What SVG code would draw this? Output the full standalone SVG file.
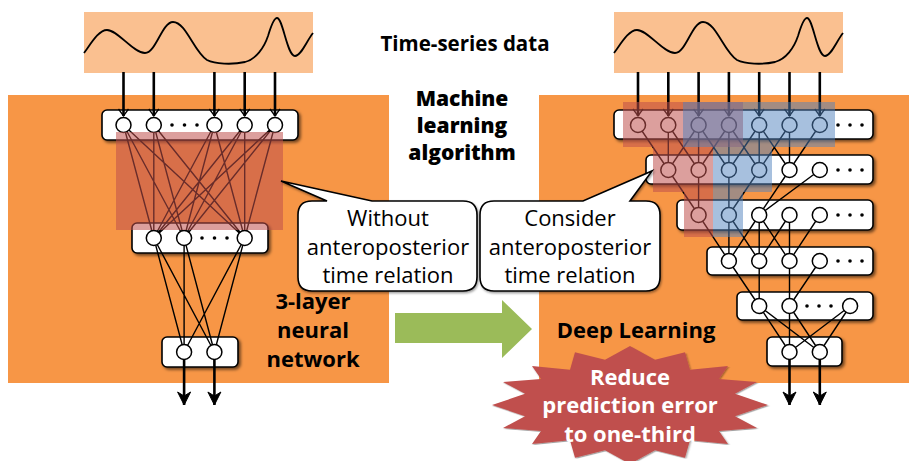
<svg xmlns="http://www.w3.org/2000/svg" width="909" height="461" viewBox="0 0 909 461">
<style>
.bg{fill:#F79646}
.data{fill:#FAC090}
.wave{fill:none;stroke:#000;stroke-width:1.8}
.box{fill:#fff;stroke:#000;stroke-width:1.6;filter:url(#sh)}
.n{fill:#fff;stroke:#000;stroke-width:1.5}
.dot{fill:#000}
.ln{fill:none;stroke:#000;stroke-width:1.4}
.in{fill:none;stroke:#000;stroke-width:2.6;marker-end:url(#va)}
.out{fill:none;stroke:#000;stroke-width:2.6;marker-end:url(#fa)}
.red{fill:#C0504D;opacity:0.55}
.blue{fill:#4F81BD;opacity:0.5}
.bub{fill:#fff;stroke:#000;stroke-width:1.6;filter:url(#sh2)}
.bt{font-family:"Open Sans","Noto Sans",sans-serif;font-size:22px;fill:#000;text-anchor:middle}
.bold{font-family:"Open Sans","Noto Sans",sans-serif;font-weight:700;font-size:22px;fill:#000;text-anchor:middle}
.heavy{font-family:"Open Sans","Noto Sans",sans-serif;font-weight:800;font-size:21px;fill:#000;text-anchor:middle}
.wt{font-family:"Open Sans","Noto Sans",sans-serif;font-weight:700;font-size:22px;fill:#fff;text-anchor:middle}
</style>
<defs>
<filter id="sh" x="-10%" y="-20%" width="130%" height="160%"><feDropShadow dx="2" dy="2" stdDeviation="1.4" flood-color="#000" flood-opacity="0.55"/></filter>
<filter id="sh2" x="-10%" y="-20%" width="130%" height="160%"><feDropShadow dx="1" dy="1.5" stdDeviation="1" flood-color="#000" flood-opacity="0.4"/></filter>
<marker id="va" viewBox="-10 -10 20 20" refX="0" refY="0" markerWidth="20" markerHeight="20" markerUnits="userSpaceOnUse" orient="auto"><path d="M-7,-5 L0,0 L-7,5" fill="none" stroke="#000" stroke-width="1.3"/></marker>
<marker id="fa" viewBox="-14 -10 20 20" refX="0" refY="0" markerWidth="20" markerHeight="20" markerUnits="userSpaceOnUse" orient="auto"><path d="M-13,-6.5 L0,0 L-13,6.5 L-9,0 Z" fill="#000" stroke="#000" stroke-width="1"/></marker>
<path id="wv" d="M84,53 C92,42 99,30 107,30 C118,30 133,53 145,53 C156,53 162,22 173,22 C186,22 194,52 207,60 C215,64 232,65 245,62 C256,59 264,48 268,36 C271,26 274,18 277,18 C283,18 287,56 295,56 C301,56 306,42 313,33"/>
</defs>

<g id="backgrounds">
<rect class="bg" x="8" y="95" width="381" height="288"/>
<rect class="bg" x="539" y="95" width="370" height="288"/>
</g>

<g id="data-left">
<rect class="data" x="84" y="12" width="229" height="61"/>
<use href="#wv" class="wave"/>
</g>
<g id="data-right">
<rect class="data" x="614" y="12" width="229" height="61"/>
<use href="#wv" class="wave" transform="translate(530,0)"/>
</g>

<g id="label-timeseries"><text x="465" y="51" class="bold" style="font-size:20.5px">Time-series data</text></g>
<g id="label-ml">
<text class="heavy" x="462" y="106">Machine</text>
<text class="heavy" x="462" y="133">learning</text>
<text class="heavy" x="462" y="160">algorithm</text>
</g>

<g id="nn3">
<rect class="box" x="102" y="110" width="196" height="30" rx="5"/>
<rect class="box" x="132" y="223" width="136" height="30" rx="5"/>
<rect class="box" x="162" y="337" width="76" height="30" rx="5"/>
</g>

<g id="connectors">
<g id="left-links">
<line class="in" x1="123.5" y1="72" x2="123.5" y2="116"/>
<line class="in" x1="153.8" y1="72" x2="153.8" y2="116"/>
<line class="in" x1="214.4" y1="72" x2="214.4" y2="116"/>
<line class="in" x1="244.7" y1="72" x2="244.7" y2="116"/>
<line class="in" x1="275" y1="72" x2="275" y2="116"/>
<path class="ln" d="M123.5,125 L153.8,238 M123.5,125 L184.1,238 M123.5,125 L244.7,238
M153.8,125 L153.8,238 M153.8,125 L184.1,238 M153.8,125 L244.7,238
M214.4,125 L153.8,238 M214.4,125 L184.1,238 M214.4,125 L244.7,238
M244.7,125 L153.8,238 M244.7,125 L184.1,238 M244.7,125 L244.7,238
M275,125 L153.8,238 M275,125 L184.1,238 M275,125 L244.7,238"/>
<path class="ln" d="M153.8,238 L184.1,352 M153.8,238 L214.4,352 M184.1,238 L184.1,352 M184.1,238 L214.4,352 M244.7,238 L184.1,352 M244.7,238 L214.4,352"/>
<line class="out" x1="184.1" y1="352" x2="184.1" y2="405"/>
<line class="out" x1="214.4" y1="352" x2="214.4" y2="405"/>
</g>
</g>

<g id="nn3-nodes">
<g class="n">
<circle cx="123.5" cy="125" r="7.5"/><circle cx="153.8" cy="125" r="7.5"/><circle cx="214.4" cy="125" r="7.5"/><circle cx="244.7" cy="125" r="7.5"/><circle cx="275" cy="125" r="7.5"/>
<circle cx="153.8" cy="238" r="7.5"/><circle cx="184.1" cy="238" r="7.5"/><circle cx="244.7" cy="238" r="7.5"/>
<circle cx="184.1" cy="352" r="7.5"/><circle cx="214.4" cy="352" r="7.5"/>
</g>
<g class="dot">
<circle cx="172" cy="125" r="1.8"/><circle cx="184.5" cy="125" r="1.8"/><circle cx="197" cy="125" r="1.8"/>
<circle cx="202" cy="238" r="1.8"/><circle cx="214.5" cy="238" r="1.8"/><circle cx="227" cy="238" r="1.8"/>
</g>
<rect class="red" x="116" y="132" width="167" height="98"/>
</g>

<g id="dl">
<rect class="box" x="614" y="110" width="259" height="29" rx="5"/>
<rect class="box" x="646" y="155" width="227" height="29" rx="5"/>
<rect class="box" x="677" y="200" width="196" height="30" rx="5"/>
<rect class="box" x="707" y="247" width="166" height="28" rx="5"/>
<rect class="box" x="737" y="292" width="136" height="28" rx="5"/>
<rect class="box" x="767" y="337" width="75" height="29" rx="5"/>
</g>

<g id="right-links">
<line class="in" x1="638" y1="72" x2="638" y2="116"/>
<line class="in" x1="668.3" y1="72" x2="668.3" y2="116"/>
<line class="in" x1="698.6" y1="72" x2="698.6" y2="116"/>
<line class="in" x1="728.9" y1="72" x2="728.9" y2="116"/>
<line class="in" x1="759.2" y1="72" x2="759.2" y2="116"/>
<line class="in" x1="789.5" y1="72" x2="789.5" y2="116"/>
<line class="in" x1="819.8" y1="72" x2="819.8" y2="116"/>
<path class="ln" d="M638,125 L668.3,170 M668.3,125 L668.3,170 M698.6,125 L668.3,170
M668.3,125 L698.6,170 M698.6,125 L698.6,170 M728.9,125 L698.6,170
M698.6,125 L728.9,170 M728.9,125 L728.9,170 M759.2,125 L728.9,170
M728.9,125 L759.2,170 M759.2,125 L759.2,170 M789.5,125 L759.2,170
M759.2,125 L789.5,170 M789.5,125 L789.5,170 M819.8,125 L789.5,170"/>
<path class="ln" d="M668.3,170 L698.6,215 M698.6,170 L698.6,215 M728.9,170 L728.9,215 M759.2,170 L728.9,215 M789.5,170 L759.2,215 M819.8,170 L759.2,215"/>
<path class="ln" d="M698.6,215 L728.9,261 M728.9,215 L728.9,261 M759.2,215 L728.9,261
M728.9,215 L759.2,261 M759.2,215 L759.2,261 M789.5,215 L759.2,261
M759.2,215 L789.5,261 M789.5,215 L789.5,261 M819.8,215 L789.5,261"/>
<path class="ln" d="M728.9,261 L759.2,306 M759.2,261 L759.2,306 M789.5,261 L789.5,306 M819.8,261 L789.5,306"/>
<path class="ln" d="M759.2,306 L789.5,352 M759.2,306 L819.8,352 M789.5,306 L789.5,352 M789.5,306 L819.8,352 M850.1,306 L789.5,352 M850.1,306 L819.8,352"/>
<line class="out" x1="789.5" y1="352" x2="789.5" y2="405"/>
<line class="out" x1="819.8" y1="352" x2="819.8" y2="405"/>
</g>

<g id="dl-nodes">
<g class="n">
<circle cx="638" cy="125" r="7.5"/><circle cx="668.3" cy="125" r="7.5"/><circle cx="698.6" cy="125" r="7.5"/><circle cx="728.9" cy="125" r="7.5"/><circle cx="759.2" cy="125" r="7.5"/><circle cx="789.5" cy="125" r="7.5"/><circle cx="819.8" cy="125" r="7.5"/>
<circle cx="668.3" cy="170" r="7.5"/><circle cx="698.6" cy="170" r="7.5"/><circle cx="728.9" cy="170" r="7.5"/><circle cx="759.2" cy="170" r="7.5"/><circle cx="789.5" cy="170" r="7.5"/><circle cx="819.8" cy="170" r="7.5"/>
<circle cx="698.6" cy="215" r="7.5"/><circle cx="728.9" cy="215" r="7.5"/><circle cx="759.2" cy="215" r="7.5"/><circle cx="789.5" cy="215" r="7.5"/><circle cx="819.8" cy="215" r="7.5"/>
<circle cx="728.9" cy="261" r="7.5"/><circle cx="759.2" cy="261" r="7.5"/><circle cx="789.5" cy="261" r="7.5"/><circle cx="819.8" cy="261" r="7.5"/>
<circle cx="759.2" cy="306" r="7.5"/><circle cx="789.5" cy="306" r="7.5"/><circle cx="850.1" cy="306" r="7.5"/>
<circle cx="789.5" cy="352" r="7.5"/><circle cx="819.8" cy="352" r="7.5"/>
</g>
<g class="dot">
<circle cx="838" cy="125" r="1.8"/><circle cx="850" cy="125" r="1.8"/><circle cx="862" cy="125" r="1.8"/>
<circle cx="838" cy="170" r="1.8"/><circle cx="850" cy="170" r="1.8"/><circle cx="862" cy="170" r="1.8"/>
<circle cx="838" cy="215" r="1.8"/><circle cx="850" cy="215" r="1.8"/><circle cx="862" cy="215" r="1.8"/>
<circle cx="838" cy="261" r="1.8"/><circle cx="850" cy="261" r="1.8"/><circle cx="862" cy="261" r="1.8"/>
<circle cx="807" cy="306" r="1.8"/><circle cx="819" cy="306" r="1.8"/><circle cx="831" cy="306" r="1.8"/>
</g>
<rect class="red" x="623" y="102" width="120" height="45"/>
<rect class="blue" x="683" y="102" width="152" height="45"/>
<rect class="red" x="653" y="147" width="60" height="45"/>
<rect class="blue" x="713" y="147" width="59" height="45"/>
<rect class="red" x="684" y="192" width="29" height="45"/>
<rect class="blue" x="713" y="192" width="30" height="45"/>
</g>

<g id="bubble-without">
<path class="bub" d="M312,201 L327,201 L281,181 L372,201 L463,201 Q477,201 477,215 L477,277 Q477,291 463,291 L312,291 Q298,291 298,277 L298,215 Q298,201 312,201 Z"/>
<text class="bt" x="388" y="226">Without</text>
<text class="bt" x="388" y="255">anteroposterior</text>
<text class="bt" x="388" y="283">time relation</text>
</g>
<g id="bubble-consider">
<path class="bub" d="M494,201 L583,201 L652,171 L630,201 L646,201 Q660,201 660,215 L660,277 Q660,291 646,291 L494,291 Q480,291 480,277 L480,215 Q480,201 494,201 Z"/>
<text class="bt" x="570" y="226">Consider</text>
<text class="bt" x="570" y="255">anteroposterior</text>
<text class="bt" x="570" y="283">time relation</text>
</g>

<g id="label-3layer">
<text class="bold" x="313" y="309">3-layer</text>
<text class="bold" x="313" y="338">neural</text>
<text class="bold" x="313" y="367">network</text>
</g>

<g id="arrow-green"><polygon points="395,313 502,313 502,300 532,329 502,358 502,343 395,343" fill="#9BBB59"/></g>

<g id="label-dl"><text class="bold" x="636" y="338">Deep Learning</text></g>

<g id="burst">
<polygon fill="#C0504D" filter="url(#sh2)" points="768,405 735,423 757,442 719,447 728,468 690,462 685,490 655,478 630,500 605,478 575,490 570,462 532,468 541,447 503,442 525,423 492,405 525,387 503,368 541,363 532,342 570,348 575,320 605,332 630,310 655,332 685,320 690,348 728,342 719,363 757,368 735,387" transform="translate(630,405) scale(1,0.62) translate(-630,-405)"/>
<text class="wt" x="630" y="385">Reduce</text>
<text class="wt" x="630" y="413">prediction error</text>
<text class="wt" x="630" y="442">to one-third</text>
</g>
</svg>
